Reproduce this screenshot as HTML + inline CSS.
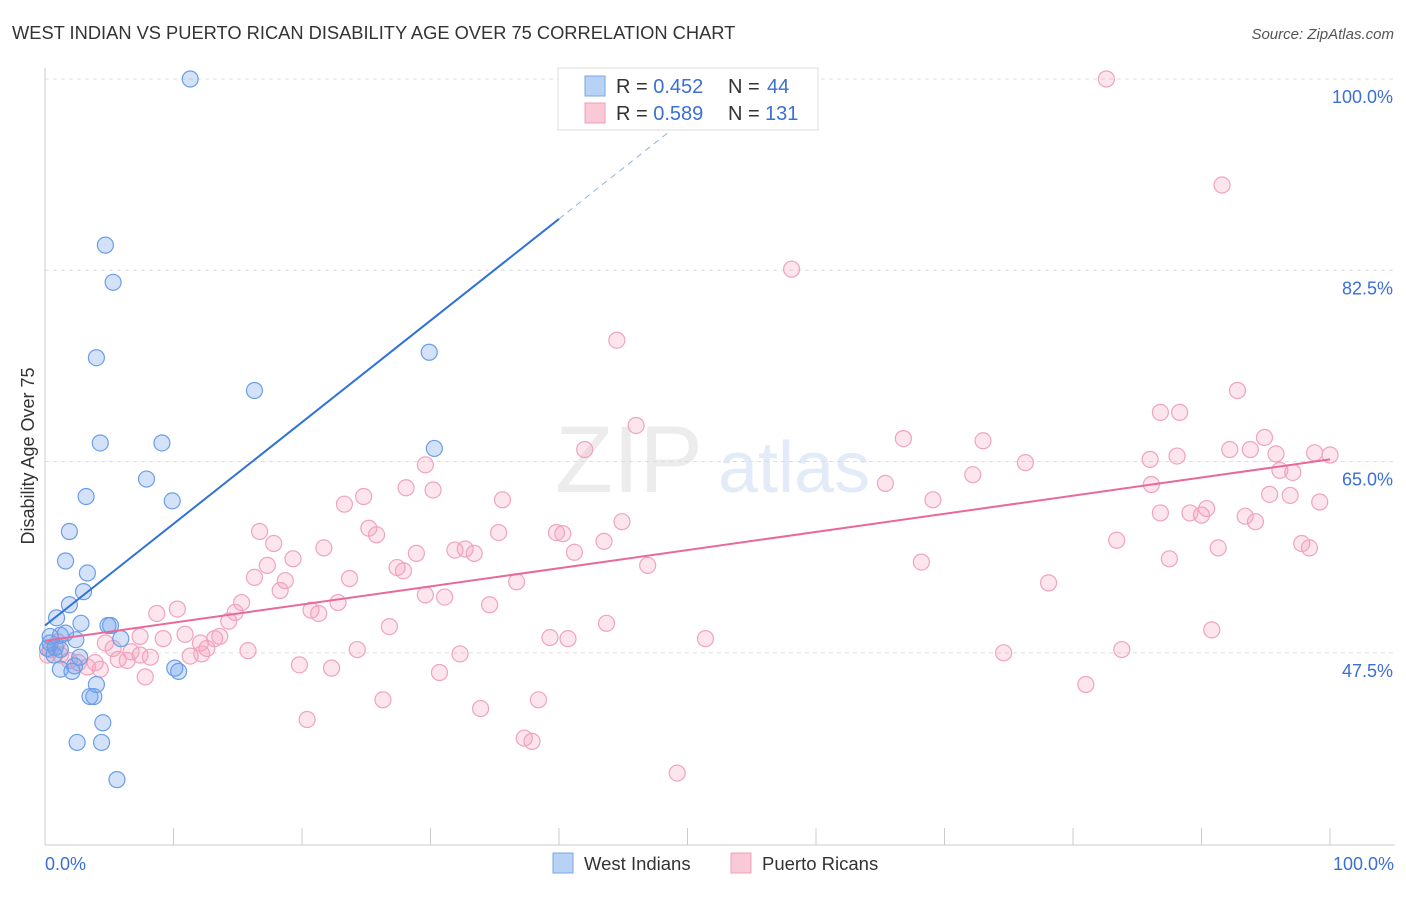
<!DOCTYPE html>
<html><head><meta charset="utf-8"><style>
body{margin:0;background:#fff;font-family:"Liberation Sans",sans-serif;}
svg text{font-family:"Liberation Sans",sans-serif;}
</style></head><body>
<svg id="chart" width="1406" height="892" xmlns="http://www.w3.org/2000/svg">
<text x="12" y="39" font-size="18.3" fill="#333">WEST INDIAN VS PUERTO RICAN DISABILITY AGE OVER 75 CORRELATION CHART</text>
<text x="1394" y="39" font-size="15" fill="#555" font-style="italic" text-anchor="end">Source: ZipAtlas.com</text>
<text x="555" y="492" font-size="95" fill="#ececec" font-family="Liberation Serif">ZIP</text>
<text x="718" y="492" font-size="72" fill="#e2ebf7">atlas</text>
<g id="grid"></g>
<g id="axes"></g>
<g id="pts"></g>
<g id="lines"></g>
<text transform="translate(34,456) rotate(-90)" font-size="18" fill="#333" text-anchor="middle">Disability Age Over 75</text>
<text x="45" y="870" font-size="18" fill="#3b6fd4">0.0%</text>
<text x="1394" y="870" font-size="18" fill="#3b6fd4" text-anchor="end">100.0%</text>
<g>
<rect x="558" y="68" width="260" height="62" fill="#fff" stroke="#ddd"/>
<rect x="585" y="76" width="20" height="20" fill="#b7d2f5" stroke="#7aa6e6"/>
<rect x="585" y="103" width="20" height="20" fill="#f9c9d8" stroke="#eea0b8"/>
<text x="616" y="93" font-size="20" fill="#333">R = <tspan fill="#3b6fd4">0.452</tspan><tspan x="728">N = </tspan><tspan x="767" fill="#3b6fd4">44</tspan></text>
<text x="616" y="120" font-size="20" fill="#333">R = <tspan fill="#3b6fd4">0.589</tspan><tspan x="728">N = </tspan><tspan x="765" fill="#3b6fd4">131</tspan></text>
</g>
<g>
<rect x="553" y="853" width="20" height="20" fill="#b7d2f5" stroke="#7aa6e6"/>
<text x="584" y="870" font-size="18.5" fill="#333">West Indians</text>
<rect x="731" y="853" width="20" height="20" fill="#f9c9d8" stroke="#eea0b8"/>
<text x="762" y="870" font-size="18.5" fill="#333">Puerto Ricans</text>
</g>
</svg>
<script>
const yTicks=[100,82.5,65,47.5];
const yTickLabels=["100.0%","82.5%","65.0%","47.5%"];
const xTicks=[0,10,20,30,40,50,60,70,80,90,100];
const blueX=[11.3,4.7,5.3,4.0,16.3,29.9,4.3,9.1,7.9,9.9,3.2,1.9,1.6,3.3,3.0,1.9,0.9,2.8,4.9,5.1,5.9,0.4,1.2,1.6,2.4,0.4,0.8,1.2,0.7,2.7,2.3,1.2,2.1,10.1,10.4,4.0,3.5,3.8,4.5,2.5,4.4,5.6,30.3,0.2];
const blueY=[100,84.8,81.4,74.5,71.5,75.0,66.7,66.7,63.4,61.4,61.8,58.6,55.9,54.8,53.1,51.9,50.7,50.2,50.0,50.0,48.8,49.0,49.1,49.3,48.7,48.4,48.0,47.8,47.3,47.1,46.3,46.0,45.8,46.1,45.8,44.6,43.5,43.5,41.1,39.3,39.3,35.9,66.2,47.9];
const pinkX=[82.6,91.6,58.1,44.5,92.8,86.8,88.3,46.0,66.8,73.0,94.9,92.2,93.8,95.8,98.8,100,42.0,86.0,88.1,76.3,96.1,97.1,72.2,29.6,65.4,86.1,95.3,96.9,99.2,69.1,35.6,28.1,30.2,24.8,23.3,86.8,89.1,90.0,90.4,93.4,94.2,44.9,25.2,25.8,35.3,39.8,40.3,16.7,17.8,21.7,19.3,28.9,31.9,32.7,33.4,41.2,43.5,83.4,91.3,97.8,98.4,87.5,68.2,46.9,27.4,27.9,17.3,16.3,18.7,23.7,36.7,78.1,18.3,29.6,31.1,15.3,14.8,20.7,21.3,22.8,34.6,8.7,10.3,14.3,43.7,26.8,10.9,13.2,13.6,7.4,9.2,39.3,40.7,51.4,90.8,4.7,5.3,12.1,12.6,15.8,6.7,8.2,24.3,32.3,74.6,83.8,11.3,12.2,0.4,1.2,1.9,3.9,4.3,5.7,6.4,7.4,7.8,19.8,22.3,30.7,81.0,26.3,38.4,33.9,20.4,37.3,37.9,49.2,0.2,2.6,3.3,1.0];
const pinkY=[100,90.3,82.6,76.1,71.5,69.5,69.5,68.3,67.1,66.9,67.2,66.1,66.1,65.7,65.8,65.6,66.1,65.2,65.5,64.9,64.2,64.0,63.8,64.7,63.0,62.9,62.0,61.9,61.3,61.5,61.5,62.6,62.4,61.8,61.1,60.3,60.3,60.1,60.7,60.0,59.5,59.5,58.9,58.3,58.5,58.5,58.4,58.6,57.5,57.1,56.1,56.6,56.9,57.0,56.6,56.7,57.7,57.8,57.1,57.5,57.1,56.1,55.8,55.5,55.3,55.0,55.5,54.4,54.1,54.3,54.0,53.9,53.2,52.8,52.6,52.1,51.2,51.4,51.1,52.1,51.9,51.1,51.5,50.4,50.2,49.9,49.2,48.8,49.0,49.0,48.8,48.9,48.8,48.8,49.6,48.4,47.9,48.4,47.9,47.7,47.6,47.1,47.8,47.4,47.5,47.8,47.2,47.4,47.8,47.3,46.8,46.6,46.0,46.9,46.8,47.3,45.3,46.4,46.1,45.7,44.6,43.2,43.2,42.4,41.4,39.7,39.4,36.5,47.3,46.6,46.2,48.5];
const blueTrend=[50.0,0.93];
const pinkTrend=[48.6,0.166];
const NS="http://www.w3.org/2000/svg";
const X=v=>45+v*12.85;
const Y=v=>79+(100-v)*10.93;
function mk(tag,attrs,parent){const e=document.createElementNS(NS,tag);for(const k in attrs)e.setAttribute(k,attrs[k]);document.getElementById(parent).appendChild(e);return e;}
yTicks.forEach((t,i)=>{
  const l=mk('line',{x1:45,x2:1395,y1:Y(t),y2:Y(t),stroke:'#ddd','stroke-dasharray':'4,4'},'grid');
  
  
  const tx=mk('text',{x:1393,y:Y(t)+24,'font-size':18,fill:'#3b6fd4','text-anchor':'end'},'grid');
  tx.textContent=yTickLabels[i];
  
  
});
const ax=mk('line',{x1:45,x2:45,y1:68,y2:845,stroke:'#ccc'},'axes');


const bx=mk('line',{x1:45,x2:1395,y1:845,y2:845,stroke:'#ccc'},'axes');


xTicks.forEach(t=>{
  const l=mk('line',{x1:X(t),x2:X(t),y1:828,y2:845,stroke:'#ccc'},'axes');
  
  
});
pinkX.forEach((v,i)=>{
  const c=mk('circle',{cx:X(v),cy:Y(pinkY[i]),r:8,fill:'rgba(245,160,190,0.28)',stroke:'#f0a3bd','stroke-width':1.2},'pts');
  
  
});
blueX.forEach((v,i)=>{
  const c=mk('circle',{cx:X(v),cy:Y(blueY[i]),r:8,fill:'rgba(110,160,235,0.3)',stroke:'#6b9ee6','stroke-width':1.2},'pts');
  
  
});
const bl=mk('line',{x1:X(0),y1:Y(blueTrend[0]),x2:X(40),y2:Y(blueTrend[0]+blueTrend[1]*40),stroke:'#2f72d8','stroke-width':2},'lines');


const bd=mk('line',{x1:X(40),y1:Y(blueTrend[0]+blueTrend[1]*40),x2:X(52.5),y2:Y(blueTrend[0]+blueTrend[1]*52.5),stroke:'#8fb0e0','stroke-width':1,'stroke-dasharray':'6,5'},'lines');


const pl=mk('line',{x1:X(0),y1:Y(pinkTrend[0]),x2:X(100),y2:Y(pinkTrend[0]+pinkTrend[1]*100),stroke:'#e8699a','stroke-width':2},'lines');


</script>
</body></html>
